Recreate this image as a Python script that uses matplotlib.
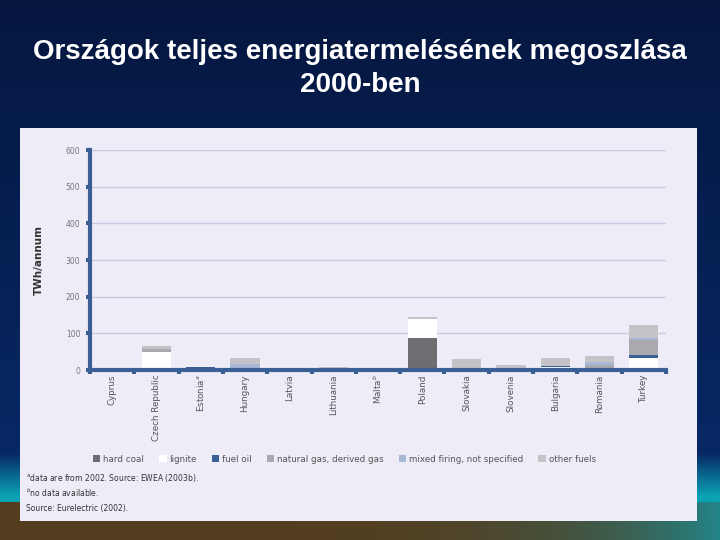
import matplotlib.pyplot as plt
import numpy as np
from matplotlib.patches import Rectangle, Patch

# Adatok (TWh/év)
countries = ["Cyprus", "Czech Republic", "Estonia$^{a}$", "Hungary", "Latvia",
             "Lithuania", "Malta$^{b}$", "Poland", "Slovakia", "Slovenia",
             "Bulgaria", "Romania", "Turkey"]
hard_coal = [0, 0, 0, 0, 0, 0, 0, 87, 0, 0, 0, 0, 0]
lignite = [0, 48, 0, 2, 0, 0, 0, 52, 0, 0, 9, 0, 34]
fuel_oil = [0, 0, 8, 3, 0, 0, 0, 0, 0, 0, 2, 0, 6]
natural_gas = [0, 9, 0, 0, 0, 0, 0, 0, 3, 0, 0, 15, 42]
mixed_firing = [0, 0, 0, 11, 0, 2, 0, 0, 0, 0, 0, 6, 6]
other_fuels = [0, 9, 0, 17, 0, 7, 0, 6, 27, 13, 22, 17, 35]

series = [
    ("hard coal", hard_coal, "#6e6e72"),
    ("lignite", lignite, "#ffffff"),
    ("fuel oil", fuel_oil, "#3a5f95"),
    ("natural gas, derived gas", natural_gas, "#a9a9ae"),
    ("mixed firing, not specified", mixed_firing, "#a8b8d6"),
    ("other fuels", other_fuels, "#c4c4c8"),
]
yticks = [0, 100, 200, 300, 400, 500, 600]

W, H = 720, 540
fig = plt.figure(figsize=(7.2, 5.4), dpi=100)

# Háttér: sötétkék színátmenet, alul barna sáv, oldalt türkiz
bg = fig.add_axes([0, 0, 1, 1], zorder=0)
bg.set_axis_off()
yy = np.linspace(0, 1, H)[:, None, None]
xx = np.linspace(0, 1, W)[None, :, None]
top = np.array([0.02, 0.09, 0.25])
bot = np.array([0.03, 0.17, 0.42])
img = top + (bot - top) * yy * np.ones((1, W, 1))
teal = np.array([0.05, 0.72, 0.76])
side = np.clip((yy - 0.84) / 0.08, 0, 1) * 0.85
img = img * (1 - side) + teal * side
brown = np.array([0.33, 0.24, 0.12])
earth = (yy > 0.93) * (1 - 0.7 * xx ** 5)
img = img * (1 - earth) + brown * earth
bg.imshow(img, extent=[0, 1, 0, 1], aspect="auto", origin="upper")
bg.add_patch(Rectangle((20 / W, 1 - 521 / H), 677 / W, 393 / H,
                       facecolor="#eeedf7", edgecolor="none"))
bg.set_xlim(0, 1)
bg.set_ylim(0, 1)

fig.text(0.5, 1 - 52 / H, "Országok teljes energiatermelésének megoszlása",
         color="white", fontsize=20, fontweight="bold", family="Liberation Sans",
         ha="center", va="center")
fig.text(0.5, 1 - 85 / H, "2000-ben", color="white", fontsize=20,
         fontweight="bold", family="Liberation Sans", ha="center", va="center")

ax = fig.add_axes([90 / W, 1 - 370 / H, 576 / W, 220 / H], zorder=2)
ax.set_facecolor("none")
x = np.arange(len(countries))
bottom = np.zeros(len(countries))
for name, vals, col in series:
    ax.bar(x, vals, width=0.66, bottom=bottom, color=col, zorder=3)
    bottom += np.array(vals)

ax.set_xlim(-0.5, len(countries) - 0.5)
ax.set_ylim(0, 600)
ax.set_yticks(yticks)
ax.set_yticklabels([str(v) for v in yticks], fontsize=5.5, color="#777777")
ax.yaxis.grid(True, color="#c9cce0", linewidth=1, zorder=0)
ax.set_axisbelow(True)
for s in ["top", "right"]:
    ax.spines[s].set_visible(False)
for s in ["left", "bottom"]:
    ax.spines[s].set_color("#3a5f95")
    ax.spines[s].set_linewidth(3)
    ax.spines[s].set_zorder(4)
ax.tick_params(axis="y", length=3, width=3, color="#3a5f95", pad=4)
ax.set_xticks(np.arange(len(countries) + 1) - 0.5)
ax.set_xticklabels([])
ax.tick_params(axis="x", length=3, width=3, color="#3a5f95")
for i, c in enumerate(countries):
    ax.text(i, -12, c, rotation=90, ha="center", va="top", fontsize=6.3,
            color="#555555")
ax.set_ylabel("TWh/annum", fontsize=7.5, fontweight="bold", color="#333333",
              labelpad=16)

handles = [Patch(facecolor=col, edgecolor="none", label=name) for name, _, col in series]
leg = fig.legend(handles=handles, loc="center", bbox_to_anchor=(0.478, 1 - 459 / H),
                 ncol=6, frameon=False, fontsize=6.3, handlelength=0.9,
                 handleheight=0.9, handletextpad=0.3, columnspacing=1.7,
                 labelcolor="#555555")
leg.set_zorder(3)

notes = ["$^{a}$data are from 2002. Source: EWEA (2003b).",
         "$^{b}$no data available.",
         "Source: Eurelectric (2002)."]
for k, t in enumerate(notes):
    fig.text(26 / W, 1 - (478 + k * 15) / H, t, fontsize=5.5, color="#333333",
             va="center", zorder=3)

fig.savefig("out.png", dpi=100)
